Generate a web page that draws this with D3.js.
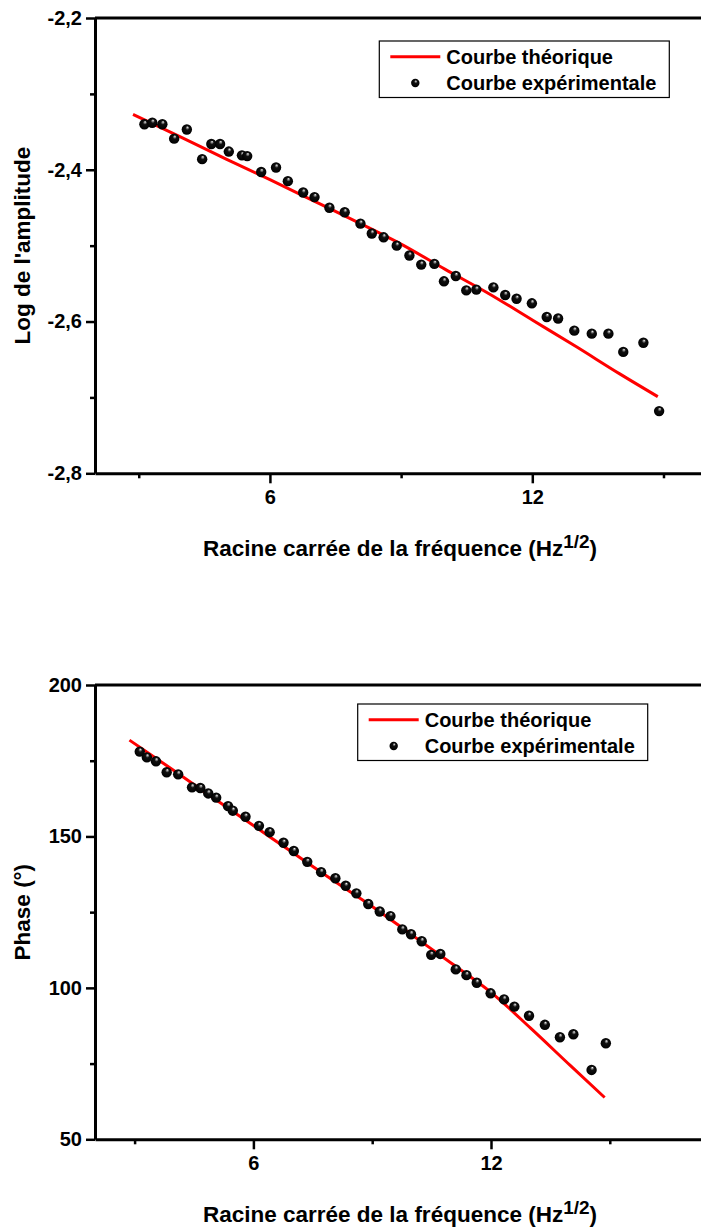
<!DOCTYPE html>
<html>
<head>
<meta charset="utf-8">
<script src="https://cdn.jsdelivr.net/npm/d3@7"></script>
<style>
  body { margin: 0; background: #fff; }
  svg { display: block; font-family: "Liberation Sans", Arial, sans-serif; font-weight: bold; }
</style>
</head>
<body>
<svg id="chart" width="701" height="1231"></svg>
<script>
// square root of the frequency (Hz^1/2), same for both panels
var xVals = [3.13, 3.31, 3.54, 3.81, 4.10, 4.45, 4.66, 4.86, 5.06, 5.36, 5.48, 5.80, 6.14, 6.41,
  6.76, 7.02, 7.36, 7.71, 8.07, 8.33, 8.60, 8.90, 9.19, 9.46, 9.76, 9.98, 10.25, 10.49, 10.72,
  11.11, 11.38, 11.64, 11.99, 12.33, 12.59, 12.96, 13.36, 13.74, 14.08, 14.54, 14.90];

// log of amplitude, experimental
var ampExp = [-2.340, -2.338, -2.340, -2.359, -2.347, -2.386, -2.366, -2.366, -2.376, -2.381, -2.382,
  -2.403, -2.397, -2.415, -2.430, -2.436, -2.450, -2.456, -2.471, -2.484, -2.489, -2.500, -2.513,
  -2.525, -2.524, -2.547, -2.540, -2.559, -2.558, -2.555, -2.565, -2.570, -2.576, -2.594, -2.596,
  -2.612, -2.616, -2.616, -2.640, -2.628, -2.718];

// phase (deg), experimental
var phaseExp = [178.0, 176.1, 174.8, 171.2, 170.5, 166.2, 166.0, 164.2, 162.8, 160.0, 158.5, 156.5,
  153.5, 151.4, 147.9, 145.2, 141.6, 138.2, 136.2, 133.7, 131.2, 127.7, 125.2, 123.7, 119.3, 117.7,
  115.4, 110.9, 111.2, 106.1, 104.2, 101.7, 98.2, 96.2, 93.8, 90.8, 87.8, 83.7, 84.7, 72.9, 81.7];

// theoretical curves
var lineX = [2.87, 4, 5, 6, 7, 8, 9, 10, 11, 12, 13, 14, 14.87];
var ampTheo = [-2.327, -2.358, -2.386, -2.413, -2.441, -2.469, -2.498, -2.531, -2.563, -2.598, -2.633, -2.669, -2.699];
var phaseTheo = [181.8, 171.7, 162.6, 153.6, 144.6, 135.6, 126.9, 117.5, 108.1, 98.5, 86.7, 74.4, 63.8];

var ampTicks = [-2.8, -2.6, -2.4, -2.2];
var ampMinor = [-2.7, -2.5, -2.3];
var phaseTicks = [50, 100, 150, 200];
var phaseMinor = [75, 125, 175];
var xTicks = [6, 12];
var xMinor = [3, 9, 15];

var legendNames = ["Courbe théorique", "Courbe expérimentale"];

var svg = d3.select("#chart");
var fr = d3.formatLocale({decimal: ",", thousands: " ", grouping: [3], currency: ["", ""], minus: "-"});

// sphere look for the markers
var grad = svg.append("defs").append("radialGradient")
  .attr("id", "ball").attr("cx", "50%").attr("cy", "50%").attr("r", "50%")
  .attr("fx", "58%").attr("fy", "26%");
grad.append("stop").attr("offset", "0%").attr("stop-color", "#ffffff");
grad.append("stop").attr("offset", "14%").attr("stop-color", "#9a9a9a");
grad.append("stop").attr("offset", "38%").attr("stop-color", "#101010");
grad.append("stop").attr("offset", "100%").attr("stop-color", "#000");

function panel(cfg) {
  var x = d3.scaleLinear().domain(cfg.xDomain).range(cfg.xRange);
  var y = d3.scaleLinear().domain(cfg.yDomain).range(cfg.yRange);
  var g = svg.append("g");
  var yTop = cfg.yRange[1], yBot = cfg.yRange[0], xLeft = cfg.xRange[0];

  // top border
  g.append("line").attr("x1", xLeft).attr("x2", 701).attr("y1", yTop).attr("y2", yTop)
    .attr("stroke", "#000").attr("stroke-width", 3);

  // y axis: minor then major
  g.append("g").attr("transform", "translate(" + xLeft + ",0)")
    .call(d3.axisLeft(y).tickValues(cfg.yMinor).tickSize(5).tickFormat(""))
    .call(function(a) { a.select(".domain").remove(); a.selectAll("line").attr("stroke-width", 2.5); });
  var ya = g.append("g").attr("transform", "translate(" + xLeft + ",0)")
    .call(d3.axisLeft(y).tickValues(cfg.yTicks).tickSize(9).tickSizeOuter(0).tickPadding(4).tickFormat(cfg.yFormat));
  ya.select(".domain").attr("stroke-width", 3);
  ya.selectAll("line").attr("stroke-width", 2.5);
  ya.selectAll("text").attr("font-size", 20).attr("font-weight", "bold")
    .attr("font-family", "Liberation Sans, Arial, sans-serif").attr("fill", "#000");

  // x axis
  g.append("g").attr("transform", "translate(0," + yBot + ")")
    .call(d3.axisBottom(x).tickValues(xMinor).tickSize(5).tickFormat(""))
    .call(function(a) { a.select(".domain").remove(); a.selectAll("line").attr("stroke-width", 2.5); });
  var xa = g.append("g").attr("transform", "translate(0," + yBot + ")")
    .call(d3.axisBottom(x).tickValues(xTicks).tickSize(10).tickSizeOuter(0).tickPadding(7).tickFormat(d3.format("d")));
  xa.select(".domain").attr("stroke-width", 3);
  xa.selectAll("line").attr("stroke-width", 2.5);
  xa.selectAll("text").attr("font-size", 20).attr("font-weight", "bold")
    .attr("font-family", "Liberation Sans, Arial, sans-serif").attr("fill", "#000");

  // axis titles
  var xt = g.append("text").attr("x", 203).attr("y", yBot + 83).attr("font-size", 22.5);
  xt.append("tspan").text("Racine carrée de la fréquence (Hz");
  xt.append("tspan").attr("font-size", 19).attr("dy", -8).text("1/2");
  xt.append("tspan").attr("dy", 8).text(")");

  g.append("text").attr("transform", "translate(30," + ((yTop + yBot) / 2) + ") rotate(-90)")
    .attr("text-anchor", "middle").attr("font-size", 22.5).text(cfg.yTitle);

  // theoretical line
  var line = d3.line().x(function(d, i) { return x(lineX[i]); }).y(function(d) { return y(d); })
    .curve(d3.curveMonotoneX);
  g.append("path").datum(cfg.theo).attr("d", line)
    .attr("fill", "none").attr("stroke", "#ff0000").attr("stroke-width", 3);

  // experimental points
  g.selectAll("circle.pt").data(cfg.exp).enter().append("circle").attr("class", "pt")
    .attr("cx", function(d, i) { return x(xVals[i]); })
    .attr("cy", function(d) { return y(d); })
    .attr("r", 5.2).attr("fill", "url(#ball)");

  // legend
  var L = cfg.legend;
  var lg = g.append("g").attr("transform", "translate(" + L[0] + "," + L[1] + ")");
  lg.append("rect").attr("width", 290).attr("height", 56.5)
    .attr("fill", "#fff").attr("stroke", "#000").attr("stroke-width", 1.2);
  lg.append("line").attr("x1", 11).attr("x2", 61).attr("y1", 15.7).attr("y2", 15.7)
    .attr("stroke", "#ff0000").attr("stroke-width", 3);
  lg.append("circle").attr("cx", 36).attr("cy", 42).attr("r", 4.2).attr("fill", "url(#ball)");
  lg.selectAll("text").data(legendNames).enter().append("text")
    .attr("x", 67).attr("y", function(d, i) { return 15.7 + i * 26.5 + 7; })
    .attr("font-size", 20).text(function(d) { return d; });
}

panel({
  xDomain: [2, 16], xRange: [95, 95 + 14 * 43.73],
  yDomain: [-2.8, -2.2], yRange: [473.3, 18],
  yTicks: ampTicks, yMinor: ampMinor, yFormat: fr.format(".1f"),
  yTitle: "Log de l'amplitude",
  theo: ampTheo, exp: ampExp, legend: [379.3, 41]
});

panel({
  xDomain: [2, 18], xRange: [95, 95 + 16 * 39.6],
  yDomain: [50, 200], yRange: [1139.3, 685],
  yTicks: phaseTicks, yMinor: phaseMinor, yFormat: d3.format("d"),
  yTitle: "Phase (°)",
  theo: phaseTheo, exp: phaseExp, legend: [357.7, 704]
});
</script>
</body>
</html>
